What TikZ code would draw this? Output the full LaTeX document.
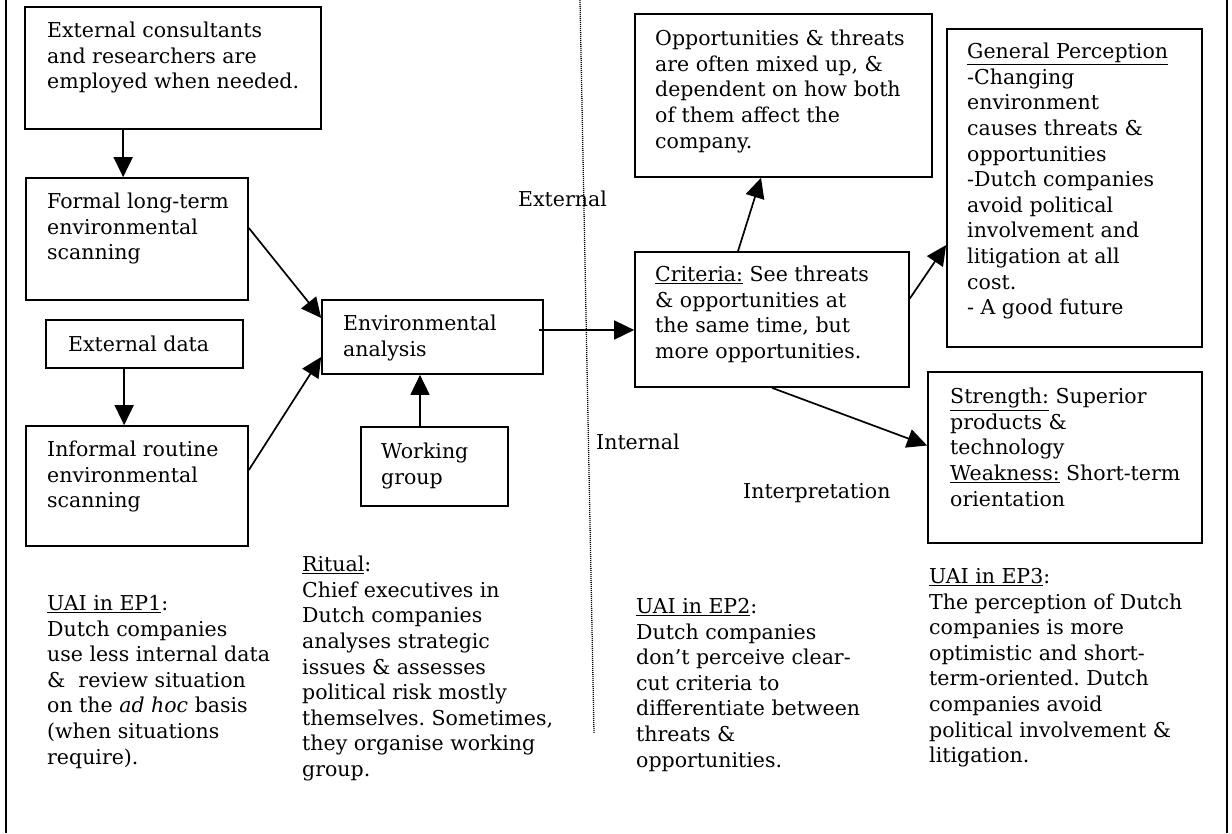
\documentclass[tikz,border=0pt]{standalone}
\usepackage{fontspec}
\setmainfont{DejaVu Serif}
\frenchspacing
\usetikzlibrary{arrows.meta,fit}
\begin{document}
\begin{tikzpicture}[x=1pt,y=-1pt,
  box/.style={draw, line width=1.7pt, inner sep=0pt},
  txt/.style={anchor=north west, align=left, inner sep=0pt,
    font={\fontsize{20.5}{25.6}\selectfont\frenchspacing},
    execute at begin node={\rule{0pt}{17pt}}},
  arr/.style={line width=1.7pt, -{Triangle[width=19pt,length=20pt]}},
  frameline/.style={line width=1.7pt},
  divider/.style={line width=1.3pt, dash pattern=on 1pt off 1pt}]
\useasboundingbox (0,0) rectangle (1232,833);

% outer frame and the external/internal divider
\coordinate (fl-top) at (6,0);
\coordinate (fl-bot) at (6,833);
\coordinate (fr-top) at (1227,0);
\coordinate (fr-bot) at (1227,833);
\draw[frameline] (fl-top) -- (fl-bot);
\draw[frameline] (fr-top) -- (fr-bot);
\coordinate (div-top) at (580,0);
\coordinate (div-bot) at (594,733);
\draw[divider] (div-top) -- (div-bot);

% boxes
\node[box, fit={(25,7) (321,129)}] (box1) {};
\node[box, fit={(26,178) (248,300)}] (formal) {};
\node[box, fit={(46,320) (243,368)}] (exdata) {};
\node[box, fit={(26,426) (248,546)}] (informal) {};
\node[box, fit={(322,300) (543,374)}] (env) {};
\node[box, fit={(361,427) (508,506)}] (working) {};
\node[box, fit={(635,14) (932,177)}] (opp) {};
\node[box, fit={(635,252) (909,387)}] (criteria) {};
\node[box, fit={(947,29) (1202,347)}] (gp) {};
\node[box, fit={(928,372) (1202,543)}] (strength) {};

% box texts
\node[txt] (box1-t) at (47,22) {External consultants\\and researchers are\\employed when needed.};
\node[txt] (formal-t) at (47,193) {Formal long-term\\environmental\\scanning};
\node[txt] (exdata-t) at (68,334) {External data};
\node[txt] (informal-t) at (47,441) {Informal routine\\environmental\\scanning};
\node[txt] (env-t) at (343,315) {Environmental\\analysis};
\node[txt] (working-t) at (381,443) {Working\\group};
\node[txt] (opp-t) at (655,30) {Opportunities \& threats\\are often mixed up, \&\\dependent on how both\\of them affect the\\company.};
\node[txt] (criteria-t) at (655,266) {\underline{Criteria:} See threats\\\& opportunities at\\the same time, but\\more opportunities.};
\node[txt] (gp-t) at (967,43) {\underline{General Perception}\\-Changing\\environment\\causes threats \&\\opportunities\\-Dutch companies\\avoid political\\involvement and\\litigation at all\\cost.\\- A good future};
\node[txt] (strength-t) at (950,388) {\underline{Strength:} Superior\\products \&\\technology\\\underline{Weakness:} Short-term\\orientation};

% free labels
\node[txt] (lbl-ext) at (518,189) {External};
\node[txt] (lbl-int) at (596,432) {Internal};
\node[txt] (lbl-interp) at (743,481) {Interpretation};

% notes under the diagram
\node[txt] (note-ep1) at (47,595) {\underline{UAI in EP1}:\\Dutch companies\\use less internal data\\\&~ review situation\\on the \textit{ad hoc} basis\\(when situations\\require).};
\node[txt] (note-ritual) at (302,556) {\underline{Ritual}:\\Chief executives in\\Dutch companies\\analyses strategic\\issues \& assesses\\political risk mostly\\themselves. Sometimes,\\they organise working\\group.};
\node[txt] (note-ep2) at (636,598) {\underline{UAI in EP2}:\\Dutch companies\\don't perceive clear-\\cut criteria to\\differentiate between\\threats \&\\opportunities.};
\node[txt] (note-ep3) at (929,568) {\underline{UAI in EP3}:\\The perception of Dutch\\companies is more\\optimistic and short-\\term-oriented. Dutch\\companies avoid\\political involvement \&\\litigation.};

% connectors
\draw[arr] ([xshift=99pt]box1.south west) -- ([xshift=99pt]box1.south west |- formal.north);
\draw[arr] ([xshift=79pt]exdata.south west) -- ([xshift=79pt]exdata.south west |- informal.north);
\draw[arr] ([yshift=11pt]formal.east) -- ([yshift=19pt]env.west);
\draw[arr] ([yshift=16pt]informal.east) -- ([yshift=-20pt]env.west);
\draw[arr] ([xshift=-14.5pt]working.north) -- ([xshift=-14.5pt]working.north |- env.south);
\draw[arr] ([xshift=-5pt,yshift=7pt]env.east) -- ([yshift=7pt]env.east -| criteria.west);
\draw[arr] ([xshift=-34pt]criteria.north) -- ([xshift=-22.5pt]opp.south);
\draw[arr] ([yshift=21pt]criteria.east) -- ([yshift=-57pt]gp.west);
\draw[arr] (criteria.south) -- ([yshift=12pt]strength.west);
\end{tikzpicture}
\end{document}
